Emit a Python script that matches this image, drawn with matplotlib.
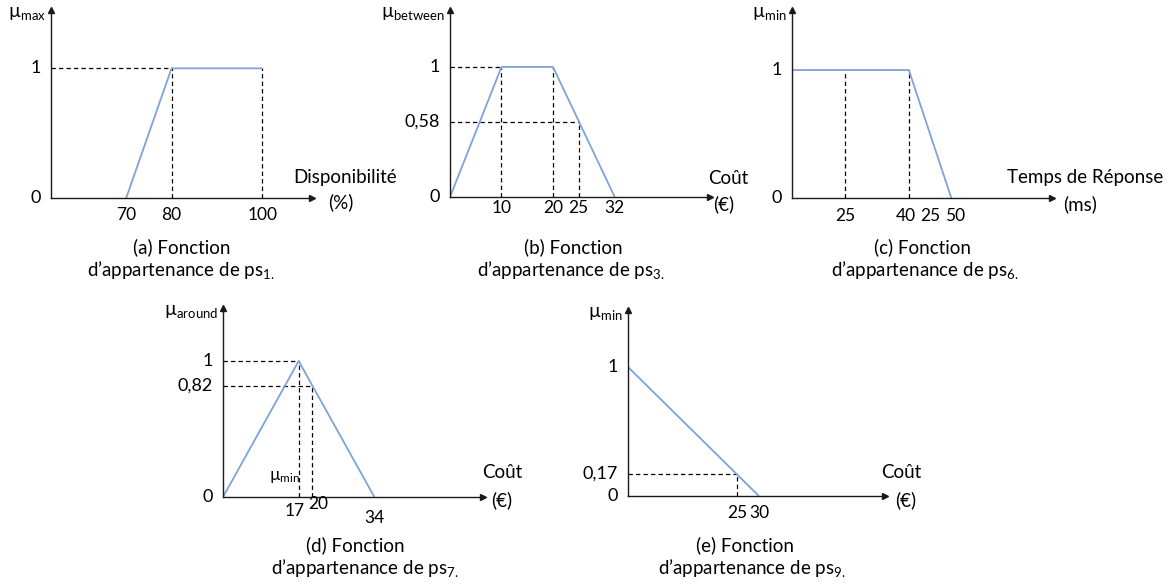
#membership functions of ps1, ps3, ps6, ps7, ps9 in one picture
import matplotlib as mpl
mpl.use('Agg')
import matplotlib.pyplot as plt

W, H = 1172, 588

mpl.rcParams['font.family'] = ['Lato', 'DejaVu Sans']
mpl.rcParams['mathtext.fontset'] = 'custom'
mpl.rcParams['mathtext.rm'] = 'Lato'
mpl.rcParams['mathtext.it'] = 'Lato:italic'

blue = '#7fa2d8'
axcol = '#1a1a1a'

# (a) ps1 - disponibilite
a_x = [70, 80, 100]
a_y = [0, 1, 1]
a_xticks = [70, 80, 100]
a_xlabels = ['70', '80', '100']
a_yticks = [0, 1]
a_ylabels = ['0', '1']
a_hguides = [(80, 1)]
a_vguides = [(80, 1), (100, 1)]

# (b) ps3 - cout
b_x = [0, 10, 20, 32]
b_y = [0, 1, 1, 0]
b_xticks = [10, 20, 25, 32]
b_xlabels = ['10', '20', '25', '32']
b_yticks = [0, 0.58, 1]
b_ylabels = ['0', '0,58', '1']
b_hguides = [(10, 1), (25, 0.58)]
b_vguides = [(10, 1), (20, 1), (25, 0.58)]

# (c) ps6 - temps de reponse
c_x = [0, 40, 50]
c_y = [1, 1, 0]
c_xticks = [25, 40, 45, 50]
c_xlabels = ['25', '40', '25', '50']
c_yticks = [0, 1]
c_ylabels = ['0', '1']
c_hguides = []
c_vguides = [(25, 1), (40, 1)]

# (d) ps7 - cout
d_x = [0, 17, 34]
d_y = [0, 1, 0]
d_xticks = [17, 20, 34]
d_xlabels = ['17', '20', '34']
d_yticks = [0, 0.82, 1]
d_ylabels = ['0', '0,82', '1']
d_hguides = [(17, 1), (20, 0.82)]
d_vguides = [(17, 1), (20, 0.82)]

# (e) ps9 - cout
e_x = [0, 30]
e_y = [1, 0]
e_xticks = [25, 30]
e_xlabels = ['25', '30']
e_yticks = [0, 0.17, 1]
e_ylabels = ['0', '0,17', '1']
e_hguides = [(25, 0.17)]
e_vguides = [(25, 0.17)]

fig = plt.figure(figsize=(W/100, H/100), dpi=100)

def px(x, y):
    return x/W, 1 - y/H

def panel(rect, xlim, ylim, xs, ys, xticks, xlabels, yticks, ylabels,
          hguides, vguides, mu, xoff):
    l, t, r, b = rect
    ax = fig.add_axes([l/W, 1 - b/H, (r - l)/W, (b - t)/H])
    ax.set_xlim(xlim)
    ax.set_ylim(0, ylim)
    ax.set_xticks([])
    ax.set_yticks([])
    for s in ['top', 'right']:
        ax.spines[s].set_visible(False)
    for s in ['left', 'bottom']:
        ax.spines[s].set_color(axcol)
        ax.spines[s].set_linewidth(1.0)
    ax.patch.set_alpha(0)
    ax.plot(1, 0, '>', ms=5, color=axcol, transform=ax.transAxes, clip_on=False)
    ax.plot(0, 1, '^', ms=5, color=axcol, transform=ax.transAxes, clip_on=False)
    x0 = xlim[0]
    for xe, yv in hguides:
        ax.plot([x0, xe], [yv, yv], color='k', lw=0.9, dashes=(3.5, 2.5))
    for xv, yt in vguides:
        ax.plot([xv, xv], [0, yt], color='k', lw=0.9, dashes=(3.5, 2.5))
    ax.plot(xs, ys, color=blue, lw=1.3, solid_capstyle='butt')
    for xv, lab, (dx, dy) in zip(xticks, xlabels, xoff):
        ax.annotate(lab, (xv, 0), xytext=(dx, -dy), textcoords='offset pixels',
                    ha='center', va='center', fontsize=12.5, annotation_clip=False)
    for yv, lab in zip(yticks, ylabels):
        ax.annotate(lab, (0, yv), xycoords=('axes fraction', 'data'),
                    xytext=(-10, 0), textcoords='offset pixels',
                    ha='right', va='center', fontsize=13, annotation_clip=False)
    ax.annotate('µ$_{\\mathrm{' + mu + '}}$', (0, 1), xycoords='axes fraction',
                xytext=(-5, -3), textcoords='offset pixels',
                ha='right', va='center', fontsize=13.5, annotation_clip=False)
    return ax

panel((51, 10, 312, 198), (53.4, 111.0), 1.45, a_x, a_y, a_xticks, a_xlabels,
      a_yticks, a_ylabels, a_hguides, a_vguides, 'max',
      [(0, 17), (0, 17), (0, 17)])
panel((450, 10, 710, 197), (0, 50.5), 1.438, b_x, b_y, b_xticks, b_xlabels,
      b_yticks, b_ylabels, b_hguides, b_vguides, 'between',
      [(0, 11), (0, 11), (0, 11), (0, 11)])
panel((792, 10, 1052, 198), (12.5, 73.7), 1.469, c_x, c_y, c_xticks, c_xlabels,
      c_yticks, c_ylabels, c_hguides, c_vguides, 'min',
      [(0, 18), (-3, 18), (0, 18), (4, 18)])
axd = panel((223, 308, 483, 497), (0, 58.4), 1.39, d_x, d_y, d_xticks, d_xlabels,
            d_yticks, d_ylabels, d_hguides, d_vguides, 'around',
            [(-4, 14), (6, 7), (0, 21)])
panel((628, 310, 885, 496), (0, 58.9), 1.442, e_x, e_y, e_xticks, e_xlabels,
      e_yticks, e_ylabels, e_hguides, e_vguides, 'min',
      [(0, 17), (0, 17)])

axd.text(10.4, 0.15, 'µ$_{\\mathrm{min}}$', fontsize=12, ha='left', va='center')

# axis names
names = [('Disponibilité', 345, 178), ('(%)', 341, 202),
         ('Coût', 728, 178), ('(€)', 724, 204),
         ('Temps de Réponse', 1085, 178), ('(ms)', 1080, 204),
         ('Coût', 502, 473), ('(€)', 502, 500),
         ('Coût', 901, 473), ('(€)', 906, 500)]
for s, x, y in names:
    fig.text(*px(x, y), s, ha='center', va='center', fontsize=13.5)

# captions
captions = [('(a) Fonction', 'ps$_{1.}$', 182, 247, 181),
            ('(b) Fonction', 'ps$_{3.}$', 573, 247, 571),
            ('(c) Fonction', 'ps$_{6.}$', 922, 247, 925),
            ('(d) Fonction', 'ps$_{7.}$', 355, 545, 365),
            ('(e) Fonction', 'ps$_{9.}$', 745, 545, 752)]
for l1, ps, x1, y1, x2 in captions:
    fig.text(*px(x1, y1), l1, ha='center', va='center', fontsize=13.5)
    fig.text(*px(x2, y1 + 23), 'd’appartenance de ' + ps, ha='center',
             va='center', fontsize=13.5)

fig.savefig('out.png', dpi=100)
